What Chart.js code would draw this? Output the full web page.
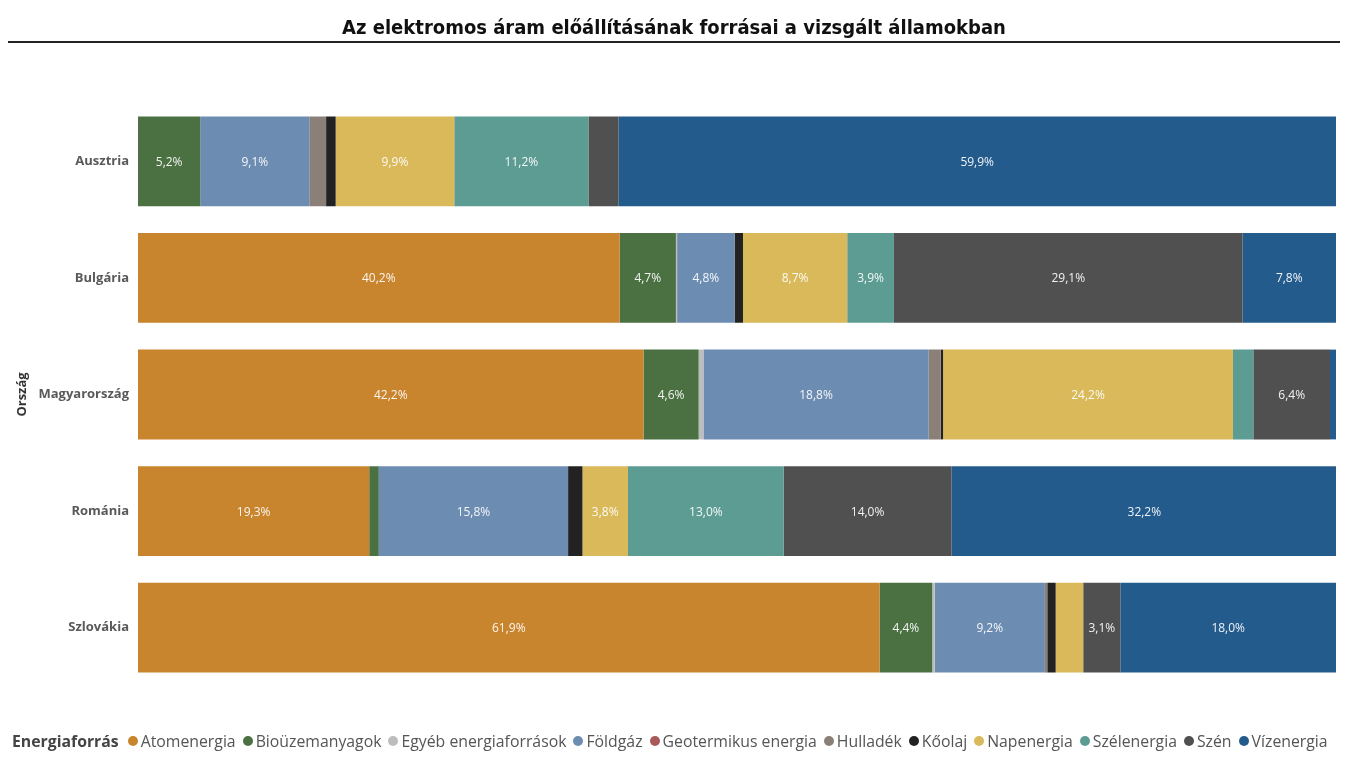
<!DOCTYPE html>
<html>
<head>
<meta charset="utf-8">
<script src="https://cdn.jsdelivr.net/npm/chart.js@4.4.0/dist/chart.umd.min.js"></script>
<style>
  html, body { margin:0; padding:0; background:#fff; }
  body { width:1348px; height:766px; position:relative; overflow:hidden; }
  #title { position:absolute; left:8px; top:13px; width:1332px; height:28px; border-bottom:2px solid #222;
           text-align:center; font-family:"DejaVu Sans Condensed","DejaVu Sans",sans-serif; font-weight:bold;
           font-size:20px; color:#111; line-height:28px; }
  #wrap { position:absolute; left:0; top:0; width:1348px; height:766px; }
  #legend { position:absolute; left:12px; top:728px; height:26px; display:flex; align-items:center;
            font-family:"Open Sans",sans-serif; font-size:15.8px; color:#555; white-space:nowrap; }
  #legend .lt { font-weight:bold; color:#444; margin-right:9px; }
  #legend .it { display:flex; align-items:center; margin-right:7px; }
  #legend .dot { width:10px; height:10px; border-radius:50%; margin-right:3px; }
</style>
</head>
<body>
<div id="wrap"><canvas id="c" width="1348" height="766"></canvas></div>
<div id="title">Az elektromos áram előállításának forrásai a vizsgált államokban</div>
<div id="legend"></div>
<script>
const countries = ["Ausztria", "Bulgária", "Magyarország", "Románia", "Szlovákia"];
const seriesNames = ["Atomenergia", "Bioüzemanyagok", "Egyéb energiaforrások", "Földgáz", "Geotermikus energia",
                     "Hulladék", "Kőolaj", "Napenergia", "Szélenergia", "Szén", "Vízenergia"];
const atomenergia    = [0,    40.2, 42.2, 19.3, 61.9];
const biouzemanyagok = [5.2,  4.7,  4.6,  0.8,  4.4];
const egyeb          = [0,    0.1,  0.4,  0,    0.2];
const foldgaz        = [9.1,  4.8,  18.8, 15.8, 9.2];
const geotermikus    = [0,    0,    0,    0,    0];
const hulladek       = [1.4,  0,    1.0,  0,    0.2];
const koolaj         = [0.8,  0.7,  0.2,  1.2,  0.7];
const napenergia     = [9.9,  8.7,  24.2, 3.8,  2.3];
const szelenergia    = [11.2, 3.9,  1.7,  13.0, 0];
const szen           = [2.5,  29.1, 6.4,  14.0, 3.1];
const vizenergia     = [59.9, 7.8,  0.6,  32.2, 18.0];
const seriesValues = [atomenergia, biouzemanyagok, egyeb, foldgaz, geotermikus, hulladek, koolaj,
                      napenergia, szelenergia, szen, vizenergia];
const colors = ["#C9852D", "#4B7143", "#BDBDBD", "#6C8DB1", "#A85A5A", "#8A8078", "#222222",
                "#D9B95A", "#5D9C93", "#505050", "#245B8D"];

const datasets = seriesNames.map((n, i) => ({
  label: n, data: seriesValues[i], backgroundColor: colors[i], borderWidth: 0,
  barPercentage: 0.77, categoryPercentage: 1.0
}));

const labelPlugin = {
  id: 'segLabels',
  afterDatasetsDraw(chart) {
    const ctx = chart.ctx;
    ctx.save();
    ctx.font = '12px "Open Sans", sans-serif';
    ctx.fillStyle = 'rgba(255,255,255,0.92)';
    ctx.textAlign = 'center';
    ctx.textBaseline = 'middle';
    chart.data.datasets.forEach((ds, di) => {
      const meta = chart.getDatasetMeta(di);
      meta.data.forEach((bar, j) => {
        const v = ds.data[j];
        if (v >= 3) {
          const p = bar.getProps(['x', 'y', 'base'], true);
          ctx.fillText(v.toFixed(1).replace('.', ',') + '%', (p.x + p.base) / 2, p.y + 1);
        }
      });
    });
    ctx.restore();
  }
};

new Chart(document.getElementById('c'), {
  type: 'bar',
  data: { labels: countries, datasets },
  options: {
    indexAxis: 'y',
    responsive: false,
    animation: false,
    layout: { padding: { left: 0, right: 12, top: 103, bottom: 80 } },
    plugins: { legend: { display: false }, tooltip: { enabled: false } },
    scales: {
      x: { stacked: true, min: 0, max: 100, display: false },
      y: {
        stacked: true,
        grid: { display: false, drawTicks: false },
        border: { display: false },
        ticks: { color: '#595959', padding: 9, font: { family: '"Open Sans", sans-serif', size: 13, weight: 'bold' } },
        title: { display: true, text: 'Ország', color: '#333', padding: { top: 14, bottom: 0 },
                 font: { family: '"Open Sans", sans-serif', size: 13, weight: 'bold' } },
        afterFit(scale) { scale.width = 138; }
      }
    }
  },
  plugins: [labelPlugin]
});

const lg = document.getElementById('legend');
const t = document.createElement('span'); t.className = 'lt'; t.textContent = 'Energiaforrás'; lg.appendChild(t);
seriesNames.forEach((n, i) => {
  const it = document.createElement('span'); it.className = 'it';
  const d = document.createElement('span'); d.className = 'dot'; d.style.background = colors[i];
  const s = document.createElement('span'); s.textContent = n;
  it.appendChild(d); it.appendChild(s); lg.appendChild(it);
});
</script>
</body>
</html>
